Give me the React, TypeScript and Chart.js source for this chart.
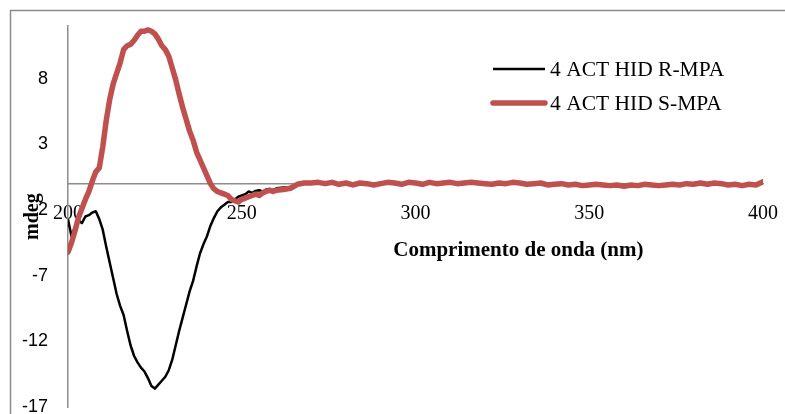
import React, { useEffect, useRef } from "react";
import { Chart, registerables } from "chart.js";

Chart.register(...registerables);

const WAVELENGTHS = [
  200, 201, 202, 203, 204, 205, 206, 207, 208, 209,
  210, 211, 212, 213, 214, 215, 216, 217, 218, 219,
  220, 221, 222, 223, 224, 225, 226, 227, 228, 229,
  230, 231, 232, 233, 234, 235, 236, 237, 238, 239,
  240, 241, 242, 243, 244, 245, 246, 247, 248, 249,
  250, 251, 252, 253, 254, 255, 256, 257, 258, 259,
  260,
  262, 264, 266, 268, 270, 272, 274, 276, 278, 280,
  282, 284, 286, 288, 290, 292, 294, 296, 298, 300,
  302, 304, 306, 308, 310, 312, 314, 316, 318, 320,
  322, 324, 326, 328, 330, 332, 334, 336, 338, 340,
  342, 344, 346, 348, 350, 352, 354, 356, 358, 360,
  362, 364, 366, 368, 370, 372, 374, 376, 378, 380,
  382, 384, 386, 388, 390, 392, 394, 396, 398, 400,
];

const R_MPA = [
  -2.7, -4.0, -3.3, -2.8, -3.0, -2.5, -2.4, -2.2, -2.1, -2.7,
  -3.5, -4.8, -6.0, -7.2, -8.4, -9.3, -10.0, -11.2, -12.3, -13.1,
  -13.6, -14.0, -14.3, -14.8, -15.4, -15.6, -15.3, -15.0, -14.7, -14.2,
  -13.4, -12.3, -11.2, -10.2, -9.2, -8.2, -7.4, -6.3, -5.3, -4.6,
  -4.0, -3.2, -2.6, -2.1, -1.8, -1.6, -1.4, -1.4, -1.2, -1.0,
  -0.9, -0.8, -0.6, -0.7, -0.55, -0.5, -0.6, -0.45, -0.4, -0.5,
  -0.35,
  -0.3, -0.3, -0.1, 0.0, 0.05, 0.1, 0.05, 0.1, 0.0, 0.05,
  -0.05, 0.05, 0.05, -0.05, 0.05, 0.1, 0.0, 0.0, 0.1, 0.1,
  0.0, 0.05, 0.05, 0.0, 0.1, 0.05, 0.0, 0.05, 0.1, 0.05,
  0.0, 0.0, 0.05, 0.05, 0.0, 0.0, 0.05, 0.0, -0.05, 0.0,
  -0.05, -0.05, 0.0, -0.1, -0.05, 0.0, -0.1, -0.1, -0.05, -0.15,
  -0.05, -0.1, -0.1, -0.05, -0.1, -0.05, -0.1, -0.05, 0.0, 0.0,
  0.0, 0.0, 0.0, 0.05, -0.05, 0.0, -0.1, 0.0, -0.05, 0.1,
];

const S_MPA = [
  -5.2, -4.5, -3.6, -2.6, -1.9, -1.2, -0.6, 0.2, 0.9, 1.2,
  2.8, 4.8, 6.4, 7.6, 8.4, 9.2, 10.2, 10.5, 10.6, 10.9,
  11.3, 11.6, 11.6, 11.7, 11.6, 11.4, 11.0, 10.5, 10.2, 9.7,
  8.8, 7.9, 6.8, 5.8, 4.9, 4.0, 3.3, 2.4, 1.8, 1.2,
  0.6, 0.0, -0.4, -0.6, -0.7, -0.8, -0.9, -1.2, -1.3, -1.4,
  -1.2, -1.1, -1.0, -0.9, -0.8, -0.9, -0.7, -0.6, -0.5, -0.6,
  -0.5,
  -0.45, -0.35, -0.05, 0.05, 0.05, 0.1, 0.0, 0.1, -0.05, 0.05,
  -0.1, 0.05, 0.0, -0.1, 0.0, 0.1, 0.05, -0.05, 0.1, 0.05,
  -0.05, 0.1, 0.0, 0.05, 0.1, 0.0, 0.05, 0.1, 0.05, 0.0,
  -0.05, 0.05, 0.0, 0.1, 0.05, -0.05, 0.0, 0.05, -0.1, -0.05,
  0.0, -0.1, -0.05, -0.15, -0.1, -0.05, -0.1, -0.15, -0.1, -0.2,
  -0.1, -0.15, -0.05, -0.1, -0.15, -0.1, -0.05, -0.1, 0.0, -0.05,
  0.05, -0.05, 0.05, 0.0, -0.1, -0.05, -0.15, -0.05, -0.1, 0.15,
];

const X_TICKS = [200, 250, 300, 350, 400];
const Y_TICKS = [-17, -12, -7, -2, 3, 8];
const SERIES_NAMES = ["4 ACT HID R-MPA", "4 ACT HID S-MPA"];
const SERIES_COLORS = ["#000000", "#C0504D"];
const X_TITLE = "Comprimento de onda (nm)";
const Y_TITLE = "mdeg";

const SERIF = '"Liberation Serif", "Times New Roman", serif';
const SANS = '"Liberation Sans", Arial, sans-serif';
const AXIS_GREY = "#8c8c8c";

const decorPlugin = {
  id: "decor",
  beforeDraw(chart: any) {
    const ctx = chart.ctx;
    ctx.save();
    ctx.strokeStyle = AXIS_GREY;
    ctx.lineWidth = 1.5;
    ctx.strokeRect(10.5, 10.5, chart.width + 20, chart.height + 20);
    ctx.restore();
  },
  afterDraw(chart: any) {
    const ctx = chart.ctx;
    const ca = chart.chartArea;
    const y0 = chart.scales.y.getPixelForValue(0);
    ctx.save();
    ctx.fillStyle = "#000";
    // x-axis title
    ctx.font = `bold 21px ${SERIF}`;
    ctx.textAlign = "center";
    ctx.textBaseline = "middle";
    ctx.fillText(X_TITLE, ca.left + (ca.right - ca.left) * 0.648, y0 + 67);
    // y-axis title
    ctx.font = `bold 20px ${SERIF}`;
    ctx.save();
    ctx.translate(33, y0 + 33);
    ctx.rotate(-Math.PI / 2);
    ctx.fillText(Y_TITLE, 0, 0);
    ctx.restore();
    // legend
    const lx0 = 493;
    const lx1 = 545;
    const rows = [69, 103];
    const widths = [2.5, 5.5];
    ctx.font = `21.5px ${SERIF}`;
    ctx.textAlign = "left";
    SERIES_NAMES.forEach((name, i) => {
      ctx.beginPath();
      ctx.strokeStyle = SERIES_COLORS[i];
      ctx.lineWidth = widths[i];
      ctx.lineCap = i === 1 ? "round" : "butt";
      ctx.moveTo(lx0, rows[i]);
      ctx.lineTo(lx1, rows[i]);
      ctx.stroke();
      ctx.fillStyle = "#000";
      ctx.fillText(name, 550, rows[i] + 1);
    });
    ctx.restore();
  },
};

export default function App() {
  const canvasRef = useRef<HTMLCanvasElement | null>(null);

  useEffect(() => {
    if (!canvasRef.current) return;
    const chart = new Chart(canvasRef.current, {
      type: "line",
      data: {
        datasets: [
          {
            label: SERIES_NAMES[0],
            data: WAVELENGTHS.map((x, i) => ({ x, y: R_MPA[i] })),
            borderColor: SERIES_COLORS[0],
            borderWidth: 2.5,
            pointRadius: 0,
            tension: 0,
            order: 1,
            borderJoinStyle: "round",
          },
          {
            label: SERIES_NAMES[1],
            data: WAVELENGTHS.map((x, i) => ({ x, y: S_MPA[i] })),
            borderColor: SERIES_COLORS[1],
            borderWidth: 5.5,
            pointRadius: 0,
            tension: 0,
            order: 0,
            borderCapStyle: "round",
            borderJoinStyle: "round",
          },
        ],
      },
      options: {
        animation: false,
        responsive: false,
        maintainAspectRatio: false,
        layout: { padding: { left: 0, right: 22, top: 26, bottom: 7 } },
        plugins: {
          legend: { display: false },
          tooltip: { enabled: false },
        },
        scales: {
          x: {
            type: "linear",
            min: 200,
            max: 400,
            position: { y: 0 } as any,
            afterBuildTicks: (s: any) => {
              s.ticks = X_TICKS.map((v) => ({ value: v }));
            },
            afterFit: (s: any) => {
              s.height = 0;
              s.paddingLeft = 0;
              s.paddingRight = 0;
            },
            grid: { display: true, drawOnChartArea: false, drawTicks: false },
            border: { display: true, color: AXIS_GREY, width: 1.5 },
            ticks: {
              autoSkip: false,
              maxRotation: 0,
              padding: 18,
              color: "#000",
              font: { family: SERIF, size: 20 },
            },
          },
          y: {
            type: "linear",
            min: -17,
            max: 12,
            afterBuildTicks: (s: any) => {
              s.ticks = Y_TICKS.map((v) => ({ value: v }));
            },
            afterFit: (s: any) => {
              s.width = 68;
              s.paddingTop = 0;
              s.paddingBottom = 0;
            },
            grid: { display: true, drawOnChartArea: false, drawTicks: false },
            border: { display: true, color: AXIS_GREY, width: 1.5 },
            ticks: {
              padding: 20,
              color: "#000",
              font: { family: SANS, size: 18 },
            },
          },
        },
      },
      plugins: [decorPlugin],
    } as any);
    return () => chart.destroy();
  }, []);

  return (
    <div style={{ position: "fixed", left: 0, top: 0, width: 785, height: 414, background: "#fff" }}>
      <canvas ref={canvasRef} width={785} height={414} style={{ display: "block" }} />
    </div>
  );
}
